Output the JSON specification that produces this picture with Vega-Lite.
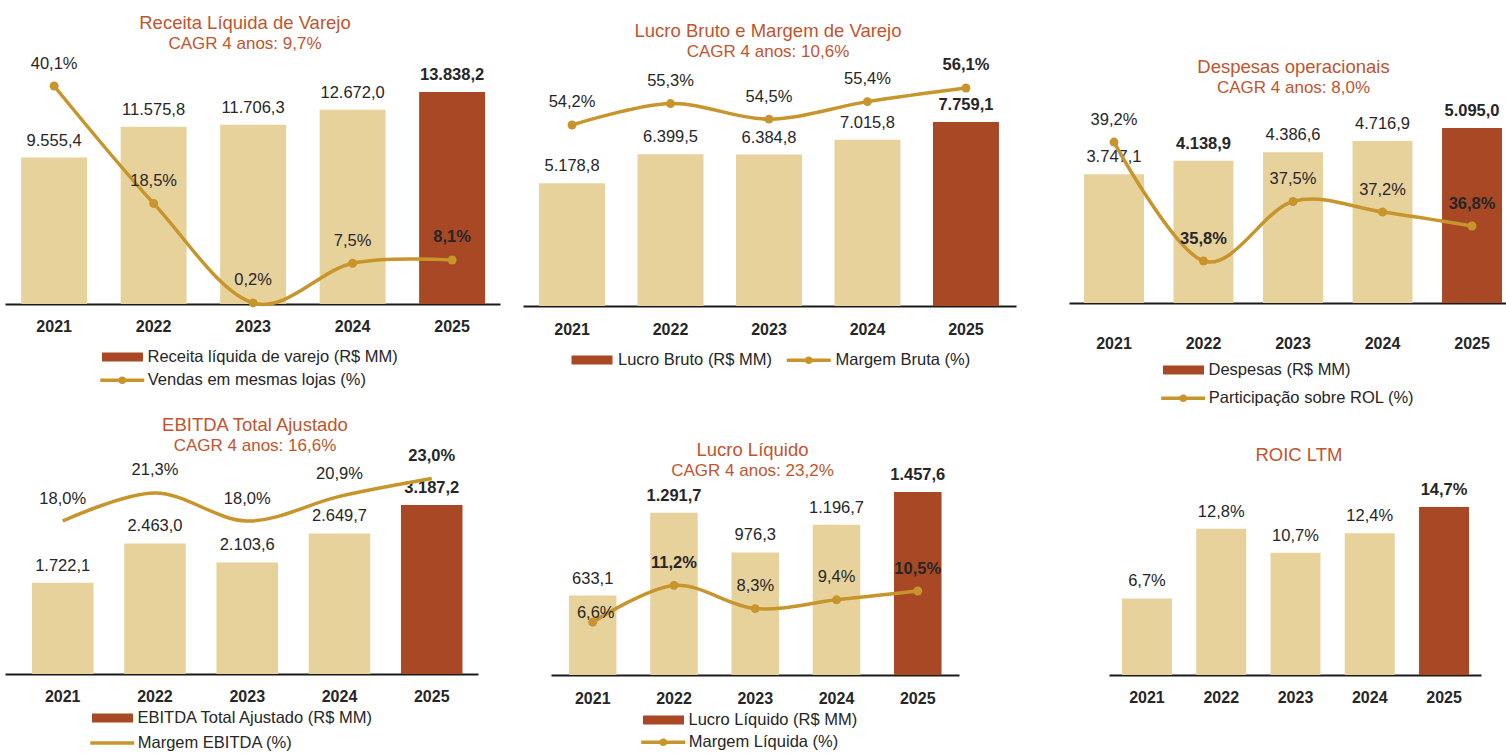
{
  "$schema": "https://vega.github.io/schema/vega-lite/v6.json",
  "padding": {"left": 5, "top": 0, "right": 0, "bottom": 0},
  "background": "white",
  "config": {
    "font": "Liberation Sans",
    "view": {"stroke": null},
    "locale": {"number": {"decimal": ",", "thousands": ".", "grouping": [3], "currency": ["R$ ", ""]}},
    "text": {"fontSize": 16.5, "color": "#262626", "font": "Liberation Sans"},
    "axisX": {"domainColor": "#1a1a1a", "domainWidth": 2, "ticks": false, "tickSize": 0, "labelFontWeight": "bold", "labelFontSize": 16, "labelColor": "#262626", "labelAngle": 0, "grid": false},
    "title": {"color": "#C0552F", "subtitleColor": "#C0552F", "fontSize": 18.5, "subtitleFontSize": 17, "fontWeight": "normal", "anchor": "middle", "frame": "group", "subtitlePadding": 4, "font": "Liberation Sans", "subtitleFont": "Liberation Sans"},
    "legend": {"orient": "none", "padding": 0, "symbolSize": 400, "labelFontSize": 16.5, "labelColor": "#262626", "labelLimit": 600, "labelFont": "Liberation Sans"}
  },
  "datasets": {
    "p1": [
      {"ano": "2021", "valor": 9555.4, "pct": 0.401},
      {"ano": "2022", "valor": 11575.8, "pct": 0.185},
      {"ano": "2023", "valor": 11706.3, "pct": 0.002},
      {"ano": "2024", "valor": 12672.0, "pct": 0.075},
      {"ano": "2025", "valor": 13838.2, "pct": 0.081}
    ],
    "p2": [
      {"ano": "2021", "valor": 5178.8, "pct": 0.542},
      {"ano": "2022", "valor": 6399.5, "pct": 0.553},
      {"ano": "2023", "valor": 6384.8, "pct": 0.545},
      {"ano": "2024", "valor": 7015.8, "pct": 0.554},
      {"ano": "2025", "valor": 7759.1, "pct": 0.561}
    ],
    "p3": [
      {"ano": "2021", "valor": 3747.1, "pct": 0.392},
      {"ano": "2022", "valor": 4138.9, "pct": 0.358},
      {"ano": "2023", "valor": 4386.6, "pct": 0.375},
      {"ano": "2024", "valor": 4716.9, "pct": 0.372},
      {"ano": "2025", "valor": 5095.0, "pct": 0.368}
    ],
    "p4": [
      {"ano": "2021", "valor": 1722.1, "pct": 0.180},
      {"ano": "2022", "valor": 2463.0, "pct": 0.213},
      {"ano": "2023", "valor": 2103.6, "pct": 0.180},
      {"ano": "2024", "valor": 2649.7, "pct": 0.209},
      {"ano": "2025", "valor": 3187.2, "pct": 0.230}
    ],
    "p5": [
      {"ano": "2021", "valor": 633.1, "pct": 0.066},
      {"ano": "2022", "valor": 1291.7, "pct": 0.112},
      {"ano": "2023", "valor": 976.3, "pct": 0.083},
      {"ano": "2024", "valor": 1196.7, "pct": 0.094},
      {"ano": "2025", "valor": 1457.6, "pct": 0.105}
    ],
    "p6": [
      {"ano": "2021", "roic": 0.067},
      {"ano": "2022", "roic": 0.128},
      {"ano": "2023", "roic": 0.107},
      {"ano": "2024", "roic": 0.124},
      {"ano": "2025", "roic": 0.147}
    ]
  },
  "bounds": "flush",
  "spacing": 405,
  "resolve": {"scale": {"fill": "independent", "stroke": "independent"}, "legend": {"fill": "independent", "stroke": "independent"}},
  "vconcat": [
    {
      "bounds": "flush",
      "spacing": 23,
      "resolve": {"scale": {"fill": "independent", "stroke": "independent"}, "legend": {"fill": "independent", "stroke": "independent"}},
      "hconcat": [
        {
          "width": 495, "height": 304,
          "data": {"name": "p1"},
          "title": {"text": "Receita Líquida de Varejo", "subtitle": "CAGR 4 anos: 9,7%", "offset": -52, "dx": -7.5},
          "encoding": {"x": {"field": "ano", "type": "nominal", "sort": null, "scale": {"paddingInner": 0.337, "paddingOuter": 0.156, "align": 0.52}, "axis": {"title": null, "labelPadding": 14}}},
          "layer": [
            {
              "encoding": {"y": {"field": "valor", "type": "quantitative", "scale": {"domain": [0, 19843], "nice": false}, "axis": null}},
              "layer": [
                {"mark": {"type": "bar"}, "encoding": {"fill": {"condition": {"test": "datum.ano !== '2025'", "value": "#E8D29C"}, "datum": "Receita líquida de varejo (R$ MM)", "type": "nominal", "scale": {"range": ["#A94824"]}, "legend": {"title": null, "legendX": 107.5, "legendY": 347, "labelOffset": 15, "symbolType": "M-2.05,-0.45H2.05V0.45H-2.05Z", "symbolStrokeWidth": 0}}}},
                {"transform": [{"filter": "datum.ano !== '2025'"}], "mark": {"type": "text", "baseline": "alphabetic", "dy": -12}, "encoding": {"text": {"field": "valor", "type": "quantitative", "format": ",.1f"}}},
                {"transform": [{"filter": "datum.ano === '2025'"}], "mark": {"type": "text", "baseline": "alphabetic", "dy": -12, "fontWeight": "bold"}, "encoding": {"text": {"field": "valor", "type": "quantitative", "format": ",.1f"}}}
              ]
            },
            {
              "encoding": {"y": {"field": "pct", "type": "quantitative", "scale": {"domain": [0, 0.5592], "nice": false, "zero": false}, "axis": null}},
              "layer": [
                {"mark": {"type": "line", "interpolate": "cardinal", "strokeWidth": 3.5}, "encoding": {"stroke": {"datum": "Vendas em mesmas lojas (%)", "type": "nominal", "scale": {"range": ["#C8952C"]}, "legend": {"title": null, "legendX": 105.25, "legendY": 368.25, "labelOffset": 13.5, "symbolType": "M-2.2,0H2.2M-0.2,0A0.2,0.2 0 1,1 0.2,0A0.2,0.2 0 1,1 -0.2,0Z", "symbolStrokeWidth": 3.5}}}},
                {"mark": {"type": "point", "filled": true, "size": 80, "color": "#C8952C", "opacity": 1}},
                {"transform": [{"filter": "datum.ano !== '2025'"}], "mark": {"type": "text", "baseline": "alphabetic", "dy": -17.5}, "encoding": {"text": {"field": "pct", "type": "quantitative", "format": ".1%"}}},
                {"transform": [{"filter": "datum.ano === '2025'"}], "mark": {"type": "text", "baseline": "alphabetic", "dy": -17.5, "fontWeight": "bold"}, "encoding": {"text": {"field": "pct", "type": "quantitative", "format": ".1%"}}}
              ]
            }
          ],
          "resolve": {"scale": {"y": "independent"}}
        },
        {
          "bounds": "flush",
          "spacing": 53,
          "resolve": {"scale": {"fill": "independent", "stroke": "independent"}, "legend": {"fill": "independent", "stroke": "independent"}},
          "hconcat": [
            {
              "width": 493, "height": 306,
              "data": {"name": "p2"},
              "title": {"text": "Lucro Bruto e Margem de Varejo", "subtitle": "CAGR 4 anos: 10,6%", "offset": -60, "dx": -1.5},
              "encoding": {"x": {"field": "ano", "type": "nominal", "sort": null, "scale": {"paddingInner": 0.33, "paddingOuter": 0.168, "align": 0.485}, "axis": {"title": null, "labelPadding": 15}}},
              "layer": [
                {
                  "encoding": {"y": {"field": "valor", "type": "quantitative", "scale": {"domain": [0, 12904], "nice": false}, "axis": null}},
                  "layer": [
                    {"mark": {"type": "bar"}, "encoding": {"fill": {"condition": {"test": "datum.ano !== '2025'", "value": "#E8D29C"}, "datum": "Lucro Bruto (R$ MM)", "type": "nominal", "scale": {"range": ["#A94824"]}, "legend": {"title": null, "legendX": 59, "legendY": 350, "labelOffset": 16, "symbolType": "M-2.05,-0.45H2.05V0.45H-2.05Z", "symbolStrokeWidth": 0}}}},
                    {"transform": [{"filter": "datum.ano !== '2025'"}], "mark": {"type": "text", "baseline": "alphabetic", "dy": -12}, "encoding": {"text": {"field": "valor", "type": "quantitative", "format": ",.1f"}}},
                    {"transform": [{"filter": "datum.ano === '2025'"}], "mark": {"type": "text", "baseline": "alphabetic", "dy": -12, "fontWeight": "bold"}, "encoding": {"text": {"field": "valor", "type": "quantitative", "format": ",.1f"}}}
                  ]
                },
                {
                  "encoding": {"y": {"field": "pct", "type": "quantitative", "scale": {"domain": [0.449, 0.6062], "nice": false, "zero": false}, "axis": null}},
                  "layer": [
                    {"mark": {"type": "line", "interpolate": "cardinal", "strokeWidth": 3.5}, "encoding": {"stroke": {"datum": "Margem Bruta (%)", "type": "nominal", "scale": {"range": ["#C8952C"]}, "legend": {"title": null, "legendX": 273.75, "legendY": 348.25, "labelOffset": 14.75, "symbolType": "M-2.2,0H2.2M-0.2,0A0.2,0.2 0 1,1 0.2,0A0.2,0.2 0 1,1 -0.2,0Z", "symbolStrokeWidth": 3.5}}}},
                    {"mark": {"type": "point", "filled": true, "size": 80, "color": "#C8952C", "opacity": 1}},
                    {"transform": [{"filter": "datum.ano !== '2025'"}], "mark": {"type": "text", "baseline": "alphabetic", "dy": -17.5}, "encoding": {"text": {"field": "pct", "type": "quantitative", "format": ".1%"}}},
                    {"transform": [{"filter": "datum.ano === '2025'"}], "mark": {"type": "text", "baseline": "alphabetic", "dy": -17.5, "fontWeight": "bold"}, "encoding": {"text": {"field": "pct", "type": "quantitative", "format": ".1%"}}}
                  ]
                }
              ],
              "resolve": {"scale": {"y": "independent"}}
            },
            {
              "width": 437, "height": 303,
              "data": {"name": "p3"},
              "title": {"text": "Despesas operacionais", "subtitle": "CAGR 4 anos: 8,0%", "offset": -96, "dx": 6},
              "encoding": {"x": {"field": "ano", "type": "nominal", "sort": null, "scale": {"paddingInner": 0.33, "paddingOuter": 0.106, "align": 0.79}, "axis": {"title": null, "labelPadding": 32}}},
              "layer": [
                {
                  "encoding": {"y": {"field": "valor", "type": "quantitative", "scale": {"domain": [0, 8822], "nice": false}, "axis": null}},
                  "layer": [
                    {"mark": {"type": "bar"}, "encoding": {"fill": {"condition": {"test": "datum.ano !== '2025'", "value": "#E8D29C"}, "datum": "Despesas (R$ MM)", "type": "nominal", "scale": {"range": ["#A94824"]}, "legend": {"title": null, "legendX": 104.5, "legendY": 360, "labelOffset": 15, "symbolType": "M-2.05,-0.45H2.05V0.45H-2.05Z", "symbolStrokeWidth": 0}}}},
                    {"transform": [{"filter": "datum.ano !== '2025' && datum.ano !== '2022'"}], "mark": {"type": "text", "baseline": "alphabetic", "dy": -12}, "encoding": {"text": {"field": "valor", "type": "quantitative", "format": ",.1f"}}},
                    {"transform": [{"filter": "datum.ano === '2025' || datum.ano === '2022'"}], "mark": {"type": "text", "baseline": "alphabetic", "dy": -12, "fontWeight": "bold"}, "encoding": {"text": {"field": "valor", "type": "quantitative", "format": ",.1f"}}}
                  ]
                },
                {
                  "encoding": {"y": {"field": "pct", "type": "quantitative", "scale": {"domain": [0.346, 0.4326], "nice": false, "zero": false}, "axis": null}},
                  "layer": [
                    {"mark": {"type": "line", "interpolate": "cardinal", "strokeWidth": 3.5}, "encoding": {"stroke": {"datum": "Participação sobre ROL (%)", "type": "nominal", "scale": {"range": ["#C8952C"]}, "legend": {"title": null, "legendX": 102.25, "legendY": 386.25, "labelOffset": 13.5, "symbolType": "M-2.2,0H2.2M-0.2,0A0.2,0.2 0 1,1 0.2,0A0.2,0.2 0 1,1 -0.2,0Z", "symbolStrokeWidth": 3.5}}}},
                    {"mark": {"type": "point", "filled": true, "size": 80, "color": "#C8952C", "opacity": 1}},
                    {"transform": [{"filter": "datum.ano !== '2025' && datum.ano !== '2022'"}], "mark": {"type": "text", "baseline": "alphabetic", "dy": -17.5}, "encoding": {"text": {"field": "pct", "type": "quantitative", "format": ".1%"}}},
                    {"transform": [{"filter": "datum.ano === '2025' || datum.ano === '2022'"}], "mark": {"type": "text", "baseline": "alphabetic", "dy": -17.5, "fontWeight": "bold"}, "encoding": {"text": {"field": "pct", "type": "quantitative", "format": ".1%"}}}
                  ]
                }
              ],
              "resolve": {"scale": {"y": "independent"}}
            }
          ]
        }
      ]
    },
    {
      "bounds": "flush",
      "spacing": 73,
      "resolve": {"scale": {"fill": "independent", "stroke": "independent"}, "legend": {"fill": "independent", "stroke": "independent"}},
      "hconcat": [
        {
          "width": 473, "height": 269,
          "data": {"name": "p4"},
          "title": {"text": "EBITDA Total Ajustado", "subtitle": "CAGR 4 anos: 16,6%", "offset": -49, "dx": 13.5},
          "encoding": {"x": {"field": "ano", "type": "nominal", "sort": null, "scale": {"paddingInner": 0.333, "paddingOuter": 0.23, "align": 0.635}, "axis": {"title": null, "labelPadding": 14}}},
          "layer": [
            {
              "encoding": {"y": {"field": "valor", "type": "quantitative", "scale": {"domain": [0, 5073], "nice": false}, "axis": null}},
              "layer": [
                {"mark": {"type": "bar"}, "encoding": {"fill": {"condition": {"test": "datum.ano !== '2025'", "value": "#E8D29C"}, "datum": "EBITDA Total Ajustado (R$ MM)", "type": "nominal", "scale": {"range": ["#A94824"]}, "legend": {"title": null, "legendX": 97.5, "legendY": 303, "labelOffset": 15, "symbolType": "M-2.05,-0.45H2.05V0.45H-2.05Z", "symbolStrokeWidth": 0}}}},
                {"transform": [{"filter": "datum.ano !== '2025'"}], "mark": {"type": "text", "baseline": "alphabetic", "dy": -12}, "encoding": {"text": {"field": "valor", "type": "quantitative", "format": ",.1f"}}},
                {"transform": [{"filter": "datum.ano === '2025'"}], "mark": {"type": "text", "baseline": "alphabetic", "dy": -12, "fontWeight": "bold"}, "encoding": {"text": {"field": "valor", "type": "quantitative", "format": ",.1f"}}}
              ]
            },
            {
              "encoding": {"y": {"field": "pct", "type": "quantitative", "scale": {"domain": [0, 0.3165], "nice": false}, "axis": null}},
              "layer": [
                {"mark": {"type": "line", "interpolate": "cardinal", "strokeWidth": 3.5}, "encoding": {"stroke": {"datum": "Margem EBITDA (%)", "type": "nominal", "scale": {"range": ["#C8952C"]}, "legend": {"title": null, "legendX": 95.25, "legendY": 326, "labelOffset": 13.5, "symbolType": "M-2.2,0H2.2", "symbolStrokeWidth": 3.5}}}},
                {"transform": [{"filter": "datum.ano !== '2025'"}], "mark": {"type": "text", "baseline": "alphabetic", "dy": -17.5}, "encoding": {"text": {"field": "pct", "type": "quantitative", "format": ".1%"}}},
                {"transform": [{"filter": "datum.ano === '2025'"}], "mark": {"type": "text", "baseline": "alphabetic", "dy": -17.5, "fontWeight": "bold"}, "encoding": {"text": {"field": "pct", "type": "quantitative", "format": ".1%"}}}
              ]
            }
          ],
          "resolve": {"scale": {"y": "independent"}}
        },
        {
          "bounds": "flush",
          "spacing": 150,
          "resolve": {"scale": {"fill": "independent", "stroke": "independent"}, "legend": {"fill": "independent", "stroke": "independent"}},
          "hconcat": [
            {
              "width": 408, "height": 270,
              "data": {"name": "p5"},
              "title": {"text": "Lucro Líquido", "subtitle": "CAGR 4 anos: 23,2%", "offset": -74, "dx": -2.5},
              "encoding": {"x": {"field": "ano", "type": "nominal", "sort": null, "scale": {"paddingInner": 0.415, "paddingOuter": 0.218, "align": 0.507}, "axis": {"title": null, "labelPadding": 15}}},
              "layer": [
                {
                  "encoding": {"y": {"field": "valor", "type": "quantitative", "scale": {"domain": [0, 2150.6], "nice": false}, "axis": null}},
                  "layer": [
                    {"mark": {"type": "bar"}, "encoding": {"fill": {"condition": {"test": "datum.ano !== '2025'", "value": "#E8D29C"}, "datum": "Lucro Líquido (R$ MM)", "type": "nominal", "scale": {"range": ["#A94824"]}, "legend": {"title": null, "legendX": 102.5, "legendY": 305, "labelOffset": 15, "symbolType": "M-2.05,-0.45H2.05V0.45H-2.05Z", "symbolStrokeWidth": 0}}}},
                    {"transform": [{"filter": "datum.ano !== '2025' && datum.ano !== '2022'"}], "mark": {"type": "text", "baseline": "alphabetic", "dy": -12}, "encoding": {"text": {"field": "valor", "type": "quantitative", "format": ",.1f"}}},
                    {"transform": [{"filter": "datum.ano === '2025' || datum.ano === '2022'"}], "mark": {"type": "text", "baseline": "alphabetic", "dy": -12, "fontWeight": "bold"}, "encoding": {"text": {"field": "valor", "type": "quantitative", "format": ",.1f"}}}
                  ]
                },
                {
                  "encoding": {"y": {"field": "pct", "type": "quantitative", "scale": {"domain": [0, 0.3375], "nice": false}, "axis": null}},
                  "layer": [
                    {"mark": {"type": "line", "interpolate": "cardinal", "strokeWidth": 3.5}, "encoding": {"stroke": {"datum": "Margem Líquida (%)", "type": "nominal", "scale": {"range": ["#C8952C"]}, "legend": {"title": null, "legendX": 100.25, "legendY": 325.25, "labelOffset": 13.5, "symbolType": "M-2.2,0H2.2M-0.2,0A0.2,0.2 0 1,1 0.2,0A0.2,0.2 0 1,1 -0.2,0Z", "symbolStrokeWidth": 3.5}}}},
                    {"mark": {"type": "point", "filled": true, "size": 80, "color": "#C8952C", "opacity": 1}},
                    {"transform": [{"filter": "datum.ano === '2023' || datum.ano === '2024'"}], "mark": {"type": "text", "baseline": "alphabetic", "dy": -17.5}, "encoding": {"text": {"field": "pct", "type": "quantitative", "format": ".1%"}}},
                    {"transform": [{"filter": "datum.ano === '2021'"}], "mark": {"type": "text", "baseline": "alphabetic", "dy": -4, "dx": 3}, "encoding": {"text": {"field": "pct", "type": "quantitative", "format": ".1%"}}},
                    {"transform": [{"filter": "datum.ano === '2025' || datum.ano === '2022'"}], "mark": {"type": "text", "baseline": "alphabetic", "dy": -17.5, "fontWeight": "bold"}, "encoding": {"text": {"field": "pct", "type": "quantitative", "format": ".1%"}}}
                  ]
                }
              ],
              "resolve": {"scale": {"y": "independent"}}
            },
            {
              "width": 372, "height": 270,
              "data": {"name": "p6"},
              "title": {"text": "ROIC LTM", "offset": -59, "dx": 4},
              "encoding": {
                "x": {"field": "ano", "type": "nominal", "sort": null, "scale": {"paddingInner": 0.327, "paddingOuter": 0.168, "align": 0.52}, "axis": {"title": null, "labelPadding": 14.5}},
                "y": {"field": "roic", "type": "quantitative", "scale": {"domain": [0, 0.2363], "nice": false}, "axis": null}
              },
              "layer": [
                {"mark": {"type": "bar"}, "encoding": {"fill": {"condition": {"test": "datum.ano !== '2025'", "value": "#E8D29C"}, "value": "#A94824"}}},
                {"transform": [{"filter": "datum.ano !== '2025'"}], "mark": {"type": "text", "baseline": "alphabetic", "dy": -12}, "encoding": {"text": {"field": "roic", "type": "quantitative", "format": ".1%"}}},
                {"transform": [{"filter": "datum.ano === '2025'"}], "mark": {"type": "text", "baseline": "alphabetic", "dy": -12, "fontWeight": "bold"}, "encoding": {"text": {"field": "roic", "type": "quantitative", "format": ".1%"}}}
              ]
            }
          ]
        }
      ]
    }
  ]
}
